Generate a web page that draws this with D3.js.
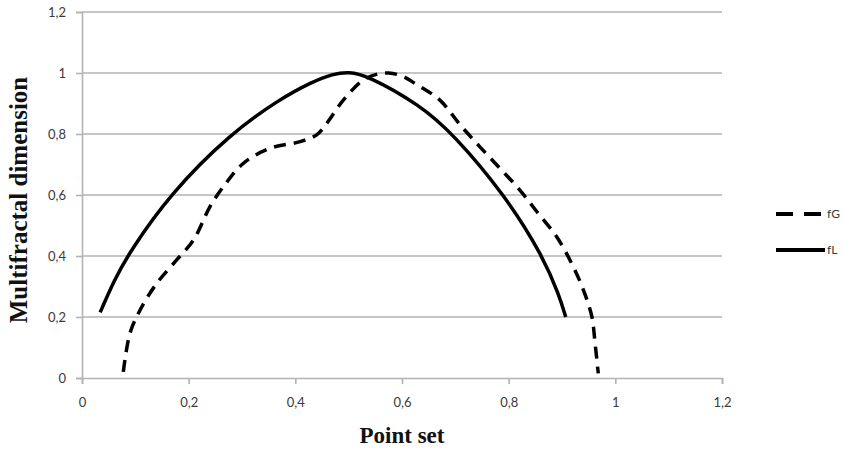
<!DOCTYPE html>
<html>
<head>
<meta charset="utf-8">
<script src="https://cdn.jsdelivr.net/npm/d3@7"></script>
<style>
  html, body { margin: 0; padding: 0; background: #fff; }
  svg { display: block; }
</style>
</head>
<body>
<svg id="chart" width="844" height="451"></svg>
<script>
// ---- data ----
const xTicks = [0, 0.2, 0.4, 0.6, 0.8, 1, 1.2];
const yTicks = [0, 0.2, 0.4, 0.6, 0.8, 1, 1.2];
const tickLabels = ["0", "0,2", "0,4", "0,6", "0,8", "1", "1,2"];

const seriesNames = ["fG", "fL"];

const fG_x = [0.0775, 0.09, 0.109, 0.14, 0.1775, 0.209, 0.24, 0.265, 0.3025, 0.3525, 0.409, 0.44, 0.459, 0.49, 0.5275, 0.555, 0.575, 0.60, 0.625, 0.671, 0.709, 0.746, 0.784, 0.821, 0.853, 0.89, 0.918, 0.94, 0.956, 0.962, 0.968];
const fG_y = [0.02, 0.147, 0.223, 0.31, 0.387, 0.452, 0.562, 0.627, 0.704, 0.753, 0.775, 0.797, 0.835, 0.911, 0.977, 0.997, 1.0, 0.99, 0.965, 0.911, 0.83, 0.758, 0.687, 0.616, 0.545, 0.463, 0.376, 0.289, 0.201, 0.114, 0.015];

const fL_x = [0.034, 0.06, 0.09, 0.165, 0.2775, 0.371, 0.433, 0.47, 0.50, 0.534, 0.634, 0.696, 0.793, 0.864, 0.895, 0.907];
const fL_y = [0.215, 0.32, 0.415, 0.603, 0.80, 0.915, 0.972, 0.997, 1.004, 0.993, 0.895, 0.80, 0.60, 0.40, 0.27, 0.20];

// ---- chart ----
const svg = d3.select("#chart");
const x = d3.scaleLinear().domain([0, 1.2]).range([82, 722]);
const y = d3.scaleLinear().domain([0, 1.2]).range([378, 12]);

const gridColor = "#b3b3b3";
const labelColor = "#3a3a3a";
const labelFont = "Lato, 'Open Sans', sans-serif";

// horizontal gridlines
svg.append("g")
  .selectAll("line")
  .data(yTicks.filter(d => d > 0))
  .join("line")
  .attr("x1", x(0)).attr("x2", x(1.2))
  .attr("y1", d => y(d)).attr("y2", d => y(d))
  .attr("stroke", gridColor).attr("stroke-width", 1.6);

// y axis
const yAxis = d3.axisLeft(y).tickValues(yTicks)
  .tickFormat((d, i) => tickLabels[i]).tickSize(6).tickPadding(10);
const gy = svg.append("g").attr("transform", `translate(${x(0)},0)`).call(yAxis);
gy.select(".domain").attr("stroke", gridColor).attr("stroke-width", 1.6);
gy.selectAll(".tick line").attr("stroke", gridColor).attr("stroke-width", 1.6);
gy.selectAll(".tick text")
  .attr("fill", labelColor).attr("font-family", labelFont).attr("font-size", 13);

// x axis
const xAxis = d3.axisBottom(x).tickValues(xTicks)
  .tickFormat((d, i) => tickLabels[i]).tickSize(6).tickPadding(14);
const gx = svg.append("g").attr("transform", `translate(0,${y(0)})`).call(xAxis);
gx.select(".domain").attr("stroke", gridColor).attr("stroke-width", 1.6);
gx.selectAll(".tick line").attr("stroke", gridColor).attr("stroke-width", 1.6);
gx.selectAll(".tick text")
  .attr("fill", labelColor).attr("font-family", labelFont).attr("font-size", 13);

// curves
const lineG = d3.line().x(d => x(d[0])).y(d => y(d[1])).curve(d3.curveCatmullRom.alpha(0.5));
const lineL = d3.line().x(d => x(d[0])).y(d => y(d[1])).curve(d3.curveBasis);
const fG = fG_x.map((v, i) => [v, fG_y[i]]);
const fL = fL_x.map((v, i) => [v, fL_y[i]]);

svg.append("path").datum(fG).attr("d", lineG)
  .attr("fill", "none").attr("stroke", "#000").attr("stroke-width", 3.5)
  .attr("stroke-dasharray", "12,8");
svg.append("path").datum(fL).attr("d", lineL)
  .attr("fill", "none").attr("stroke", "#000").attr("stroke-width", 3.5);

// legend
const legend = svg.append("g");
const legY = [214, 250];
legend.selectAll("line")
  .data(seriesNames)
  .join("line")
  .attr("x1", 776).attr("x2", (d, i) => i === 0 ? 822 : 825)
  .attr("y1", (d, i) => legY[i]).attr("y2", (d, i) => legY[i])
  .attr("stroke", "#000").attr("stroke-width", 4)
  .attr("stroke-dasharray", (d, i) => i === 0 ? "17,11" : null);
legend.selectAll("text")
  .data(seriesNames)
  .join("text")
  .attr("x", 827).attr("y", (d, i) => legY[i] + 4)
  .attr("fill", labelColor).attr("font-family", labelFont).attr("font-size", 12)
  .text(d => d);

// axis titles
svg.append("text")
  .attr("x", 402).attr("y", 443)
  .attr("text-anchor", "middle")
  .attr("font-family", "'Liberation Serif', 'DejaVu Serif', serif")
  .attr("font-weight", "bold").attr("font-size", 23).attr("fill", "#111")
  .text("Point set");

svg.append("text")
  .attr("transform", "translate(27,200) rotate(-90)")
  .attr("text-anchor", "middle")
  .attr("font-family", "'Liberation Serif', 'DejaVu Serif', serif")
  .attr("font-weight", "bold").attr("font-size", 25).attr("fill", "#111")
  .text("Multifractal dimension");
</script>
</body>
</html>
